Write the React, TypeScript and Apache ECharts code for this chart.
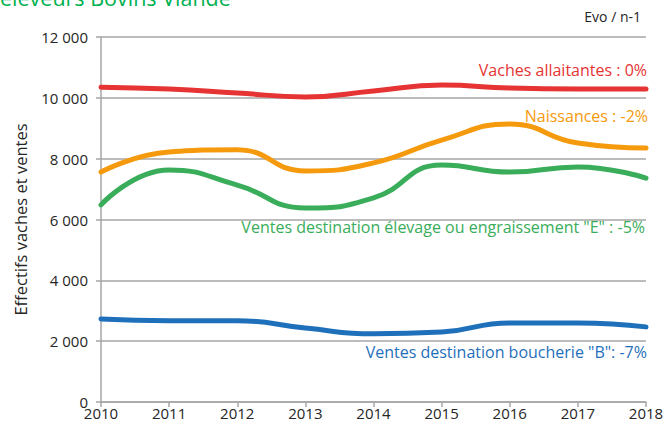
import React, { useEffect, useRef } from "react";
import * as echarts from "echarts";

const years = ["2010", "2011", "2012", "2013", "2014", "2015", "2016", "2017", "2018"];
const vachesAllaitantes = [10350, 10290, 10160, 10030, 10225, 10420, 10320, 10290, 10290];
const naissances = [7560, 8220, 8290, 7595, 7860, 8610, 9140, 8515, 8350];
const ventesElevage = [6480, 7630, 7130, 6380, 6710, 7790, 7560, 7730, 7360];
const ventesBoucherie = [2730, 2670, 2670, 2430, 2240, 2300, 2600, 2600, 2470];

const seriesNames = [
  "Vaches allaitantes : 0%",
  "Naissances : -2%",
  'Ventes destination élevage ou engraissement "E" : -5%',
  'Ventes destination boucherie "B": -7%',
];
const colors = ["#e63333", "#f59a0c", "#3aad5a", "#1f70ba"];

export default function App() {
  const ref = useRef<HTMLDivElement>(null);
  useEffect(() => {
    if (!ref.current) return;
    const chart = echarts.init(ref.current, undefined, { renderer: "svg" });
    const font = "'Open Sans', sans-serif";
    const data = [vachesAllaitantes, naissances, ventesElevage, ventesBoucherie];
    chart.setOption({
      animation: false,
      backgroundColor: "#ffffff",
      textStyle: { fontFamily: font },
      grid: { left: 101, right: 25, top: 37, bottom: 23, containLabel: false },
      xAxis: {
        type: "category",
        data: years,
        boundaryGap: false,
        axisLine: { lineStyle: { color: "#a6a6a6", width: 1.5 } },
        axisTick: { show: true, length: 5, lineStyle: { color: "#a6a6a6", width: 1.5 } },
        axisLabel: { color: "#262626", fontSize: 15, margin: 3, fontFamily: font },
      },
      yAxis: {
        type: "value",
        min: 0,
        max: 12000,
        interval: 2000,
        name: "Effectifs vaches et ventes",
        nameLocation: "middle",
        nameGap: 72,
        nameRotate: 90,
        nameTextStyle: { color: "#262626", fontSize: 16.5, fontFamily: font },
        axisLine: { show: true, lineStyle: { color: "#a6a6a6", width: 1.5 } },
        axisTick: { show: true, length: 5, lineStyle: { color: "#a6a6a6", width: 1.5 } },
        splitLine: { lineStyle: { color: "#a6a6a6", width: 1.5 } },
        axisLabel: {
          color: "#262626",
          fontSize: 15,
          margin: 13,
          fontFamily: font,
          formatter: (v: number) => (v >= 1000 ? `${Math.floor(v / 1000)} ${String(v % 1000).padStart(3, "0")}` : String(v)),
        },
      },
      series: data.map((d, i) => ({
        name: seriesNames[i],
        type: "line",
        data: d,
        smooth: 0.5,
        symbol: "none",
        lineStyle: { color: colors[i], width: 5, cap: "round" },
        z: 3,
      })),
      graphic: [
        {
          type: "text",
          left: 0,
          top: -14,
          style: { text: "éleveurs Bovins Viande", fill: "#00b050", fontSize: 21.5, fontFamily: font },
        },
        {
          type: "text",
          right: 30,
          top: 9,
          style: { text: "Evo / n-1", fill: "#262626", fontSize: 14, fontFamily: font },
        },
        {
          type: "text",
          right: 24,
          top: 62,
          style: { text: seriesNames[0], fill: colors[0], fontSize: 16, fontFamily: font },
        },
        {
          type: "text",
          right: 23,
          top: 108,
          style: { text: seriesNames[1], fill: colors[1], fontSize: 16, fontFamily: font },
        },
        {
          type: "text",
          right: 26,
          top: 219,
          style: { text: seriesNames[2], fill: colors[2], fontSize: 16, fontFamily: font },
        },
        {
          type: "text",
          right: 24,
          top: 344,
          style: { text: seriesNames[3], fill: colors[3], fontSize: 16, fontFamily: font },
        },
      ],
    });
    return () => chart.dispose();
  }, []);
  return (
    <div
      ref={ref}
      style={{ position: "fixed", left: 0, top: 0, width: 671, height: 425, background: "#fff" }}
    />
  );
}
